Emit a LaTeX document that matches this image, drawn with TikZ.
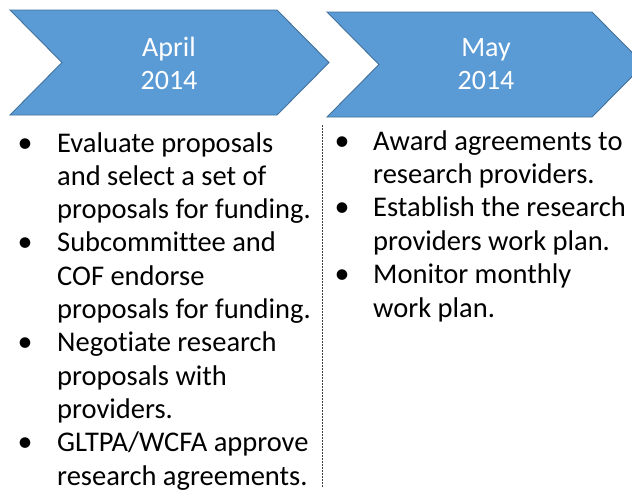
\documentclass[tikz,border=0pt]{standalone}
\usepackage{fontspec}
\setmainfont{Carlito}[Ligatures=NoCommon]
\definecolor{chevfill}{HTML}{5B9BD5}
\definecolor{chevline}{HTML}{41719C}
\definecolor{sepline}{HTML}{404040}
\tikzset{
  chev/.style={fill=chevfill,draw=chevline,line width=0.9pt,line join=miter},
  head/.style={text=white,font=\fontsize{28}{33}\selectfont,inner sep=0pt,anchor=base},
  body/.style={text=black,font=\fontsize{28.5}{33}\selectfont,inner sep=0pt,anchor=base west},
  bul/.style={text=black,font=\fontsize{30}{33}\selectfont,inner sep=0pt,anchor=base},
  sep/.style={draw=sepline,line width=1.3pt,dash pattern=on 2pt off 1pt}
}
\begin{document}
\begin{tikzpicture}[x=1pt,y=-1pt]
\useasboundingbox (0,0) rectangle (632,498);
\begin{scope}
\clip (0,0) rectangle (632,498);
\draw[chev] (10,10) -- (277,10) -- (329,62.5) -- (277,115) -- (10,115) -- (62,62.5) -- cycle;
\draw[chev] (327,12) -- (592,12) -- (644,64.5) -- (592,117) -- (327,117) -- (379,64.5) -- cycle;
\end{scope}
\node[head] (a1) at (169,56) {April};
\node[head] (a2) at (169,89) {2014};
\node[head] (m1) at (486,56) {May};
\node[head] (m2) at (486,89) {2014};
% separator
\coordinate (st) at (322.7,125);
\coordinate (sb) at (322.7,487);
\draw[sep] (st) -- (sb);
% left column
\foreach \i/\t in {1/{Evaluate proposals},2/{and select a set of},3/{proposals for funding.},4/{Subcommittee and},5/{COF endorse},6/{proposals for funding.},7/{Negotiate research},8/{proposals with},9/{providers.},10/{GLTPA/WCFA approve},11/{research agreements.}}{
  \node[body] (L\i) at (57,{152+33.3*(\i-1)}) {\t};
}
\foreach \i in {1,4,7,10}{
  \node[bul] (BL\i) at (25,{152+33.3*(\i-1)}) {•};
}
% right column
\foreach \i/\t in {1/{Award agreements to},2/{research providers.},3/{Establish the research},4/{providers work plan.},5/{Monitor monthly},6/{work plan.}}{
  \node[body] (R\i) at (373,{150+33.4*(\i-1)}) {\t};
}
\foreach \i in {1,3,5}{
  \node[bul] (BR\i) at (342,{150+33.4*(\i-1)}) {•};
}
\end{tikzpicture}
\end{document}
